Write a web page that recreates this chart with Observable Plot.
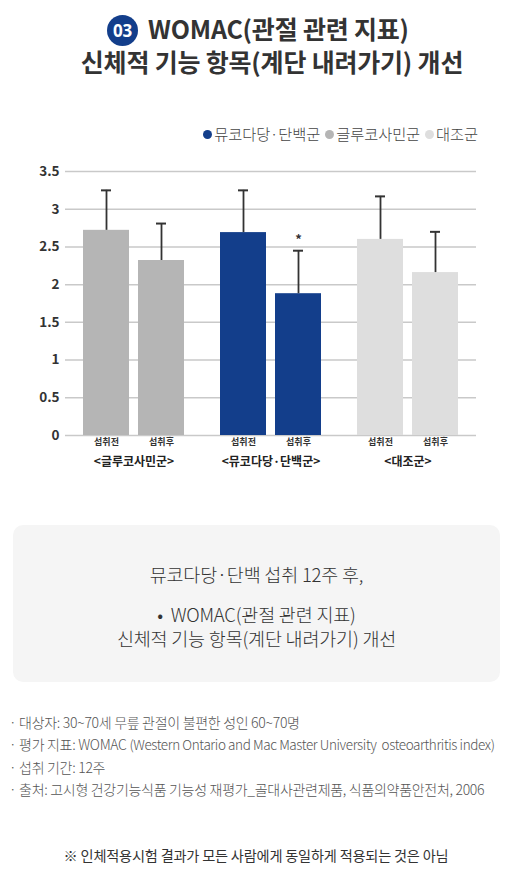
<!DOCTYPE html>
<html><head><meta charset="utf-8">
<script src="https://cdn.jsdelivr.net/npm/d3@7"></script>
<script src="https://cdn.jsdelivr.net/npm/@observablehq/plot@0.6"></script>
<style>
html,body{margin:0;padding:0;background:#fff;}
body{width:512px;height:878px;position:relative;overflow:hidden;font-family:"Noto Sans CJK KR","Noto Sans",sans-serif;color:#333;}
.abs{position:absolute;}
.title{top:13px;left:0;width:512px;box-sizing:border-box;padding-left:32px;text-align:center;font-size:25px;font-weight:700;line-height:31px;color:#333;letter-spacing:-0.2px;white-space:nowrap;}
.badge{display:inline-block;width:31px;height:31px;border-radius:50%;background:#133e8b;color:#fff;font-size:17px;font-weight:700;line-height:31px;text-align:center;vertical-align:2px;margin-right:10px;letter-spacing:0;font-family:"Noto Sans","Noto Sans CJK KR",sans-serif;}
.legend{top:122px;right:34px;font-size:15.3px;color:#444;font-weight:300;white-space:nowrap;letter-spacing:-0.1px;}
.legend span.dot{display:inline-block;width:9px;height:9px;border-radius:50%;margin:0 2px 0 5px;vertical-align:1px;}
#chart{top:150px;left:0;}
.box{left:13px;top:525px;width:487px;height:157px;background:#f5f5f5;border-radius:10px;text-align:center;color:#333;font-weight:300;font-size:18.5px;letter-spacing:-0.2px;}
.notes{left:9px;top:711px;font-size:14px;line-height:22.3px;color:#555;font-weight:300;white-space:nowrap;letter-spacing:-0.3px;}
.notes .small{font-size:13.5px;letter-spacing:-0.4px;}
.foot{left:0;top:845px;width:512px;text-align:center;font-size:14.2px;color:#333;letter-spacing:-0.2px;}
</style></head>
<body>
<div class="abs title"><span style="position:relative;left:-14px;"><span class="badge">03</span>WOMAC(관절 관련 지표)</span><br>신체적 기능 항목(계단 내려가기) 개선</div>
<div class="abs legend" id="legend"></div>
<div class="abs" id="chart"></div>
<div class="abs box">
  <div style="position:absolute;top:37px;width:100%;line-height:24px;">뮤코다당·단백 섭취 12주 후,</div>
  <div style="position:absolute;top:78px;width:100%;line-height:23.5px;">•&nbsp; WOMAC(관절 관련 지표)<br>신체적 기능 항목(계단 내려가기) 개선</div>
</div>
<div class="abs notes">
  · 대상자: 30~70세 무릎 관절이 불편한 성인 60~70명<br>
  · 평가 지표: WOMAC <span class="small">(Western Ontario and Mac Master University&nbsp; osteoarthritis index)</span><br>
  · 섭취 기간: 12주<br>
  · 출처: 고시형 건강기능식품 기능성 재평가_골대사관련제품, 식품의약품안전처, 2006
</div>
<div class="abs foot">※ 인체적용시험 결과가 모든 사람에게 동일하게 적용되는 것은 아님</div>
<script>
// ---- data ----
const groups = ["글루코사민군", "뮤코다당·단백군", "대조군"];
const legendOrder = ["뮤코다당·단백군", "글루코사민군", "대조군"];
const groupColors = ["#b5b5b5", "#133e8b", "#dedede"];
const times = ["섭취전", "섭취후"];
const beforeValues = [2.72, 2.69, 2.60];
const afterValues = [2.32, 1.88, 2.16];
const beforeSD = [0.53, 0.56, 0.57];
const afterSD = [0.49, 0.57, 0.54];
const afterSignificant = [false, true, false];
const yTicks = [0, 0.5, 1, 1.5, 2, 2.5, 3, 3.5];

const rows = [];
groups.forEach((g, i) => {
  rows.push({group: g, time: times[0], value: beforeValues[i], err: beforeSD[i], sig: false});
  rows.push({group: g, time: times[1], value: afterValues[i], err: afterSD[i], sig: afterSignificant[i]});
});

// legend
const leg = document.getElementById("legend");
legendOrder.forEach(g => {
  const c = groupColors[groups.indexOf(g)];
  leg.insertAdjacentHTML("beforeend", `<span class="dot" style="background:${c}"></span>${g}`);
});

const plot = Plot.plot({
  width: 512,
  height: 330,
  marginLeft: 64,
  marginRight: 35,
  marginTop: 21,
  marginBottom: 45,
  style: {fontFamily: '"Noto Sans CJK KR", sans-serif', background: "transparent"},
  fx: {domain: groups, paddingInner: 0, paddingOuter: 0},
  x: {domain: times, paddingInner: 0.16, paddingOuter: 0.31},
  y: {domain: [0, 3.5]},
  color: {domain: groups, range: groupColors},
  marks: [
    Plot.gridY({ticks: yTicks, stroke: "#c9c9c9", strokeOpacity: 1, strokeWidth: 1.5}),
    Plot.barY(rows, {fx: "group", x: "time", y: "value", fill: "group"}),
    Plot.ruleX(rows, {fx: "group", x: "time", y1: "value", y2: d => d.value + d.err, stroke: "#333", strokeWidth: 1.8}),
    Plot.tickY(rows, {fx: "group", x: "time", y: d => d.value + d.err, stroke: "#333", strokeWidth: 2, insetLeft: 18, insetRight: 18}),
    Plot.text(rows.filter(d => d.sig), {fx: "group", x: "time", y: d => d.value + d.err, text: () => "*", dy: -11, fontSize: 13, fontWeight: "bold", fill: "#333"}),
    Plot.axisY({ticks: yTicks, tickSize: 0, tickPadding: 6, tickFormat: d => String(d), fontSize: 13.5, fontWeight: "bold", color: "#333", label: null}),
    Plot.axisX({tickSize: 0, tickPadding: 3, fontSize: 9, fontWeight: "bold", color: "#333", label: null}),
    Plot.axisFx({anchor: "bottom", tickSize: 0, tickPadding: 22, fontSize: 12, fontWeight: "bold", color: "#222", tickFormat: d => `<${d}>`, label: null})
  ]
});
document.getElementById("chart").appendChild(plot);
</script>
</body></html>
